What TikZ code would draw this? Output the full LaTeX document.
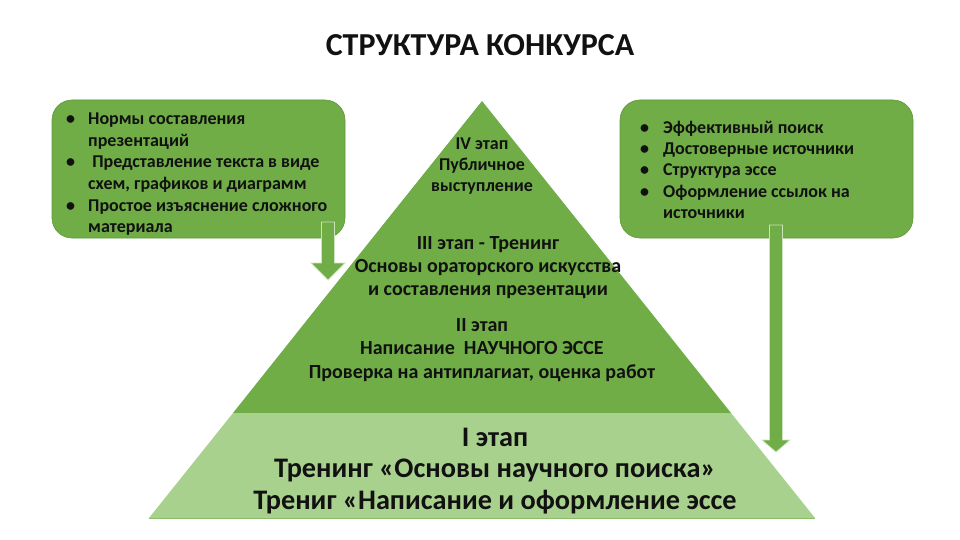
\documentclass[tikz,border=0pt]{standalone}
\usepackage{fontspec}
\setmainfont{Carlito}
\usepackage{array}
\definecolor{gbase}{HTML}{70AD47}
\definecolor{glight}{HTML}{8EC46B}
\definecolor{gpale}{HTML}{A9D18E}
\definecolor{gedge}{HTML}{5E9A3A}
\definecolor{txt}{HTML}{111111}
\pgfdeclareverticalshading{bandshade}{100bp}{color(0bp)=(gbase); color(86bp)=(gbase); color(100bp)=(glight)}
\tikzset{
  box/.style={draw=gedge, line width=0.6pt, fill=gbase, rounded corners=20pt},
  band/.style={shading=bandshade},
  blockarrow/.style={fill=gbase, draw=white!65!gbase, line width=0.8pt},
  ptext/.style={align=center, text=txt, inner sep=0pt, font=\bfseries},
  ltext/.style={align=left, text=txt, inner sep=0pt, anchor=north west, font=\bfseries}
}
\begin{document}
\begin{tikzpicture}[x=1pt,y=-1pt]
\useasboundingbox (0,0) rectangle (960,540);
% pyramid corner coordinates
\coordinate (apex) at (482,101);
\coordinate (bl) at (149,518);
\coordinate (br) at (815,518);
% band boundaries
\coordinate (l4) at (398,206); \coordinate (r4) at (566,206);
\coordinate (l3) at (315,310); \coordinate (r3) at (649,310);
\coordinate (l2) at (233,413); \coordinate (r2) at (731,413);
% bands
\path[band] (apex) -- (r4) -- (l4) -- cycle;
\path[band] (l4) -- (r4) -- (r3) -- (l3) -- cycle;
\path[band] (l3) -- (r3) -- (r2) -- (l2) -- cycle;
\path[fill=gpale] (l2) -- (r2) -- (br) -- (bl) -- cycle;
\draw[gedge!40!gpale, line width=0.6pt] (bl) -- (br);

% title
\node[text=txt, font=\bfseries\fontsize{32}{34}\selectfont] (title) at (480,45) {СТРУКТУРА КОНКУРСА};

% side boxes
\path[box] (52,100) rectangle (345,238);
\node (lbox) at (198.5,169) {};
\path[box] (620,100) rectangle (913,238);
\node (rbox) at (766.5,169) {};

\node[ltext, font=\bfseries\fontsize{18}{21.7}\selectfont] (ltxt) at (66,109)
{\begin{tabular}{@{}p{22pt}@{}l@{}}
•& Нормы составления\\
 & презентаций\\
•& \ Представление текста в виде\\
 & схем, графиков и диаграмм\\
•& Простое изъяснение сложного\\
 & материала
\end{tabular}};

\node[ltext, font=\bfseries\fontsize{18}{21.3}\selectfont] (rtxt) at (640,118)
{\begin{tabular}{@{}p{23pt}@{}l@{}}
•& Эффективный поиск\\
•& Достоверные источники\\
•& Структура эссе\\
•& Оформление ссылок на\\
 & источники
\end{tabular}};

% block arrows
\path[blockarrow] (321.5,222) -- (334.5,222) -- (334.5,263) -- (345,263) -- (328,280) -- (311,263) -- (321.5,263) -- cycle;
\path[blockarrow] (769.5,225) -- (782.5,225) -- (782.5,440) -- (790,440) -- (776,452) -- (762,440) -- (769.5,440) -- cycle;

% pyramid texts
\node[ptext, font=\bfseries\fontsize{18}{21}\selectfont] (s4) at (482,166)
{IV этап\\Публичное\\выступление};
\node[ptext, font=\bfseries\fontsize{20}{23}\selectfont] (s3) at (488,268)
{III этап - Тренинг\\Основы ораторского искусства\\и составления презентации};
\node[ptext, font=\bfseries\fontsize{20}{23.5}\selectfont] (s2) at (482,350)
{II этап\\Написание\ \ НАУЧНОГО ЭССЕ\\Проверка на антиплагиат, оценка работ};
\node[ptext, font=\bfseries\fontsize{28.3}{31.5}\selectfont] (s1) at (495,471)
{I этап\\Тренинг «Основы научного поиска»\\Трениг «Написание и оформление эссе};
\end{tikzpicture}
\end{document}
